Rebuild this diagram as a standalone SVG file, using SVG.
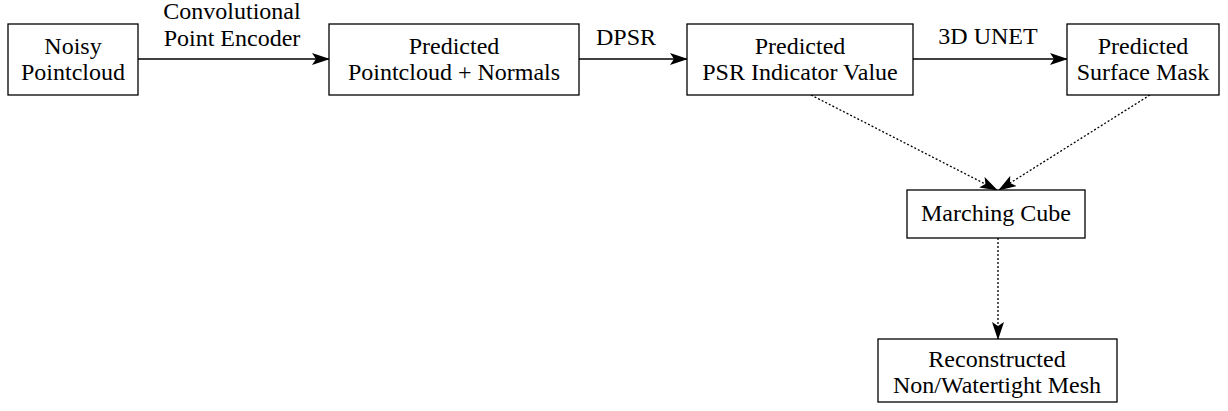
<svg xmlns="http://www.w3.org/2000/svg" width="1228" height="411" viewBox="0 0 1228 411">
<defs>
<marker id="ah" markerWidth="20" markerHeight="12" refX="17" refY="6" orient="auto" markerUnits="userSpaceOnUse">
<path d="M0,0 L18,6 L0,12 L4,6 Z" fill="#000"/>
</marker>
</defs>
<g id="connectors" fill="none" stroke="#000">
<line stroke-width="1.4" x1="138" y1="59" x2="329" y2="59" marker-end="url(#ah)"/>
<line stroke-width="1.4" x1="579" y1="59" x2="687" y2="59" marker-end="url(#ah)"/>
<line stroke-width="1.4" x1="913" y1="59" x2="1067" y2="59" marker-end="url(#ah)"/>
<line stroke-width="1.3" stroke-dasharray="2 2" x1="811" y1="95" x2="997" y2="190" marker-end="url(#ah)"/>
<line stroke-width="1.3" stroke-dasharray="2 2" x1="1150" y1="95" x2="999" y2="190" marker-end="url(#ah)"/>
<line stroke-width="1.3" stroke-dasharray="2 2" x1="998" y1="238" x2="998" y2="339" marker-end="url(#ah)"/>
</g>
<g id="labels">
<text font-family="Liberation Serif" font-size="24" text-anchor="middle" x="232" y="19">Convolutional</text>
<text font-family="Liberation Serif" font-size="24" text-anchor="middle" x="232" y="46">Point Encoder</text>
<text font-family="Liberation Serif" font-size="24" text-anchor="middle" x="626" y="45">DPSR</text>
<text font-family="Liberation Serif" font-size="24" text-anchor="middle" x="988" y="44">3D UNET</text>
</g>
<g id="n1"><rect fill="#fff" stroke="#000" stroke-width="1.3" x="8" y="24" width="130" height="71"/><text font-family="Liberation Serif" font-size="24" text-anchor="middle" x="73" y="54">Noisy</text><text font-family="Liberation Serif" font-size="24" text-anchor="middle" x="73" y="80">Pointcloud</text></g>
<g id="n2"><rect fill="#fff" stroke="#000" stroke-width="1.3" x="329" y="24" width="250" height="71"/><text font-family="Liberation Serif" font-size="24" text-anchor="middle" x="454" y="54">Predicted</text><text font-family="Liberation Serif" font-size="24" text-anchor="middle" x="454" y="80">Pointcloud + Normals</text></g>
<g id="n3"><rect fill="#fff" stroke="#000" stroke-width="1.3" x="687" y="24" width="226" height="71"/><text font-family="Liberation Serif" font-size="24" text-anchor="middle" x="800" y="54">Predicted</text><text font-family="Liberation Serif" font-size="24" text-anchor="middle" x="800" y="80">PSR Indicator Value</text></g>
<g id="n4"><rect fill="#fff" stroke="#000" stroke-width="1.3" x="1067" y="24" width="152" height="71"/><text font-family="Liberation Serif" font-size="24" text-anchor="middle" x="1143" y="54">Predicted</text><text font-family="Liberation Serif" font-size="24" text-anchor="middle" x="1143" y="80">Surface Mask</text></g>
<g id="n5"><rect fill="#fff" stroke="#000" stroke-width="1.3" x="907" y="190" width="178" height="48"/><text font-family="Liberation Serif" font-size="24" text-anchor="middle" x="996" y="221">Marching Cube</text></g>
<g id="n6"><rect fill="#fff" stroke="#000" stroke-width="1.3" x="878" y="339" width="239" height="63"/><text font-family="Liberation Serif" font-size="24" text-anchor="middle" x="997" y="367">Reconstructed</text><text font-family="Liberation Serif" font-size="24" text-anchor="middle" x="997" y="393">Non/Watertight Mesh</text></g>
</svg>
